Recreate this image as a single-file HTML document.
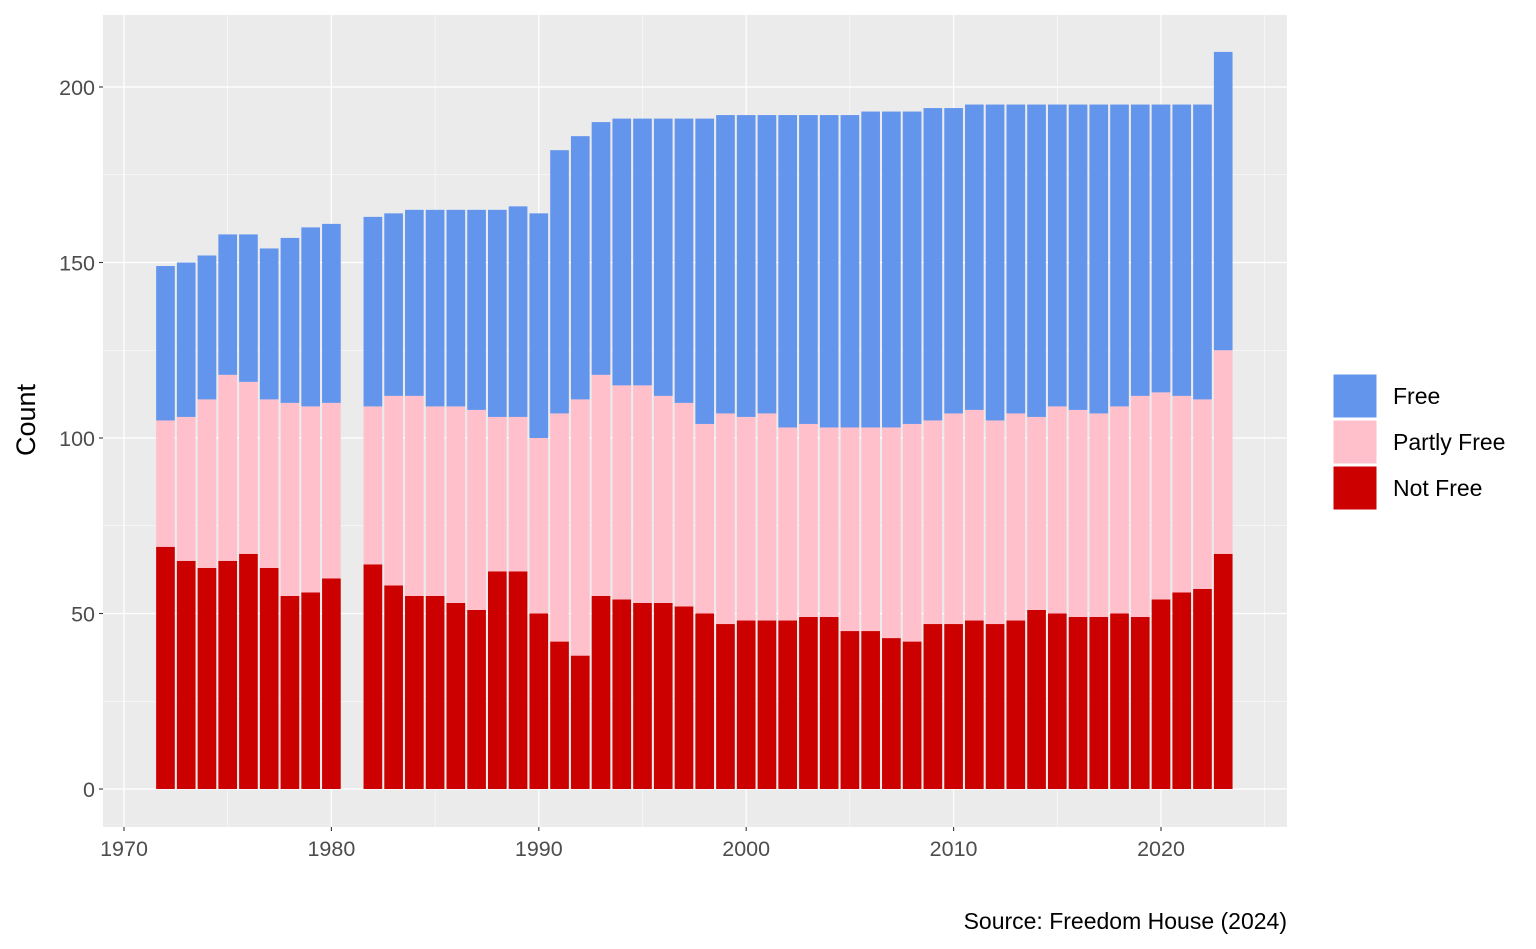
<!DOCTYPE html>
<html><head><meta charset="utf-8"><style>
body{margin:0;background:#fff;}
svg{display:block;font-family:"Liberation Sans",sans-serif;}
</style></head><body>
<svg id="c" width="1536" height="949"></svg>
<script>
const years=[1972,1973,1974,1975,1976,1977,1978,1979,1980,1982,1983,1984,1985,1986,1987,1988,1989,1990,1991,1992,1993,1994,1995,1996,1997,1998,1999,2000,2001,2002,2003,2004,2005,2006,2007,2008,2009,2010,2011,2012,2013,2014,2015,2016,2017,2018,2019,2020,2021,2022,2023];
const notFree=[69,65,63,65,67,63,55,56,60,64,58,55,55,53,51,62,62,50,42,38,55,54,53,53,52,50,47,48,48,48,49,49,45,45,43,42,47,47,48,47,48,51,50,49,49,50,49,54,56,57,67];
const partlyFree=[36,41,48,53,49,48,55,53,50,45,54,57,54,56,57,44,44,50,65,73,63,61,62,59,58,54,60,58,59,55,55,54,58,58,60,62,58,60,60,58,59,55,59,59,58,59,63,59,56,54,58];
const free=[44,44,41,40,42,43,47,51,51,54,52,53,56,56,57,59,60,64,75,75,72,76,76,79,81,87,85,86,85,89,88,89,89,90,90,89,89,87,87,90,88,89,86,87,88,86,83,82,83,84,85];
const xTicks=[1970,1980,1990,2000,2010,2020];
const yTicks=[0,50,100,150,200];
const NS="http://www.w3.org/2000/svg",svg=document.getElementById('c');
const X=v=>124+(v-1970)*20.74, Y=v=>789-v*3.51;
function el(t,a,p){const e=document.createElementNS(NS,t);for(const k in a)e.setAttribute(k,a[k]);(p||svg).appendChild(e);return e;}
const L=103,R=1287,T=15,B=827;
const bg=el('rect',{x:L,y:T,width:R-L,height:B-T,fill:'#EBEBEB'});


for(let v=1965;v<=2025;v+=5){const x=X(v);if(x<L||x>R)continue;const m=v%10===0;el('line',{x1:x,x2:x,y1:T,y2:B,stroke:'#fff','stroke-width':m?1.2:0.55});}
for(let v=-25;v<=225;v+=25){const y=Y(v);if(y<T||y>B)continue;const m=v%50===0;el('line',{x1:L,x2:R,y1:y,y2:y,stroke:'#fff','stroke-width':m?1.2:0.55});}
const bw=20.74*0.9;
const cols={nf:'#CD0000',pf:'#FFC0CB',f:'#6495ED'};
years.forEach((yr,i)=>{
  const x=X(yr)-bw/2;
  const segs=[['nf',0,notFree[i]],['pf',notFree[i],notFree[i]+partlyFree[i]],['f',notFree[i]+partlyFree[i],notFree[i]+partlyFree[i]+free[i]]];
  segs.forEach(s=>{const r=el('rect',{x:x,y:Y(s[2]),width:bw,height:Y(s[1])-Y(s[2]),fill:cols[s[0]]});
    
    });
});
xTicks.forEach(v=>{const x=X(v);el('line',{x1:x,x2:x,y1:B,y2:B+4,stroke:'#333','stroke-width':1.1});
  const t=el('text',{x:x,y:B+29,'text-anchor':'middle','font-size':21.5,fill:'#4D4D4D'});t.textContent=v;
  
  });
yTicks.forEach(v=>{const y=Y(v);el('line',{x1:L-4,x2:L,y1:y,y2:y,stroke:'#333','stroke-width':1.1});
  const t=el('text',{x:L-8,y:y+8,'text-anchor':'end','font-size':21.5,fill:'#4D4D4D'});t.textContent=v;
  
  });
const yl=el('text',{x:35,y:420,'text-anchor':'middle','font-size':27,fill:'#000',transform:'rotate(-90 35 420)'});yl.textContent='Count';


[['Free',cols.f],['Partly Free',cols.pf],['Not Free',cols.nf]].forEach((d,i)=>{
  const y=374+i*46;
  const r=el('rect',{x:1333,y:y,width:44,height:44,fill:d[1],stroke:'#fff','stroke-width':1});
  
  
  const t=el('text',{x:1393,y:y+30,'font-size':23,fill:'#000'});t.textContent=d[0];
  
  
});
const s=el('text',{x:1287,y:929,'text-anchor':'end','font-size':23,fill:'#000'});s.textContent='Source: Freedom House (2024)';


</script>
</body></html>
